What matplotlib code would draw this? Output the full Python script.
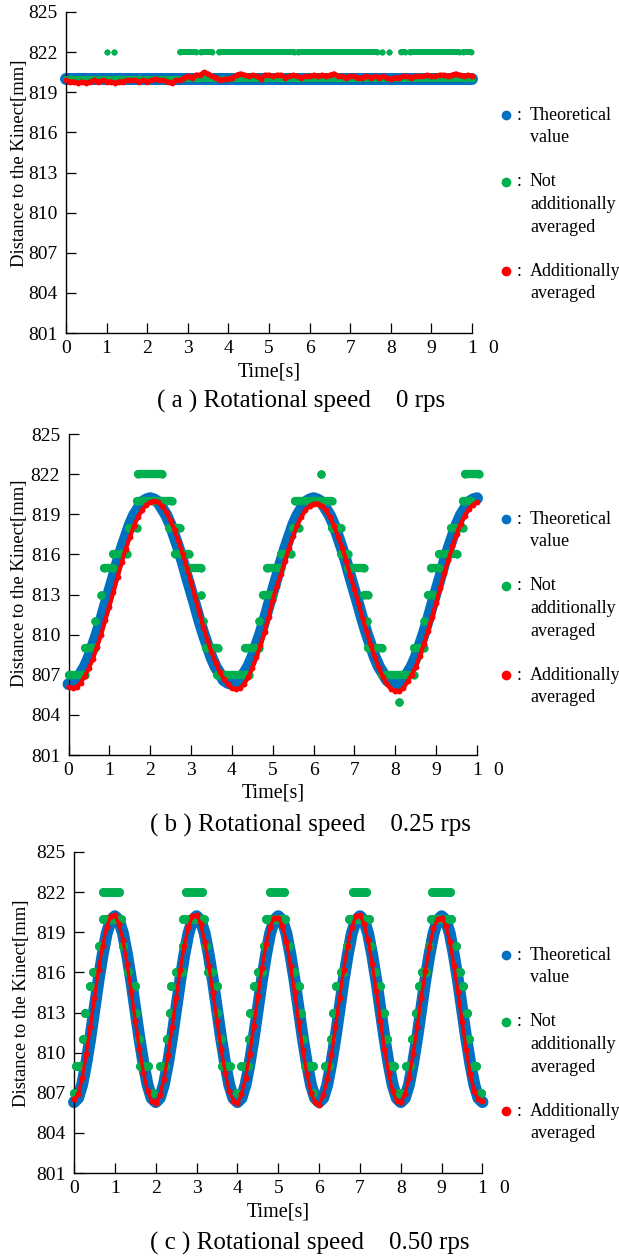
import numpy as np
import matplotlib
matplotlib.use("Agg")
import matplotlib.pyplot as plt
from matplotlib.lines import Line2D

plt.rcParams['font.family'] = ['Liberation Serif', 'DejaVu Serif']

W, H = 619, 1256

# ---------------- data ----------------
time = [round(0.1 * i, 1) for i in range(101)]
yticks = [801, 804, 807, 810, 813, 816, 819, 822, 825]
xticks = [0, 1, 2, 3, 4, 5, 6, 7, 8, 9, 10]
xticklabels = ['0', '1', '2', '3', '4', '5', '6', '7', '8', '9', '1']

legend_labels = [["Theoretical", "value"],
                 ["Not", "additionally", "averaged"],
                 ["Additionally", "averaged"]]
captions = ["( a ) Rotational speed    0 rps",
            "( b ) Rotational speed    0.25 rps",
            "( c ) Rotational speed    0.50 rps"]

# (a) 0 rps
theo_a = [820.0] * 101
avg_a = [819.9, 819.8, 819.8, 819.7, 819.8, 819.7, 819.8, 819.9, 819.8, 819.9,
         819.8, 819.8, 819.7, 819.8, 819.8, 819.9, 819.9, 819.9, 819.8, 819.9,
         819.8, 819.9, 820.0, 819.9, 819.9, 819.8, 819.7, 819.9, 819.9, 820.1,
         820.2, 820.1, 820.3, 820.3, 820.5, 820.4, 820.2, 820.1, 819.9, 820.0,
         820.0, 820.1, 820.3, 820.4, 820.3, 820.2, 820.3, 820.2, 820.0, 820.3,
         820.3, 820.2, 820.3, 820.3, 820.1, 820.2, 820.3, 820.2, 820.1, 820.2,
         820.2, 820.3, 820.2, 820.3, 820.2, 820.3, 820.4, 820.2, 820.2, 820.1,
         820.2, 820.2, 820.1, 820.1, 820.2, 820.1, 820.2, 820.1, 820.2, 820.1,
         820.0, 820.1, 820.1, 820.2, 820.2, 820.1, 820.2, 820.2, 820.2, 820.3,
         820.2, 820.2, 820.3, 820.3, 820.2, 820.3, 820.4, 820.3, 820.2, 820.3,
         820.2]
raw_a_level = [820, 822, 822, 822, 822, 822, 822, 822, 822, 822, 822, 822]
raw_a_t0 = [0.0, 1.0, 1.19, 2.82, 3.32, 3.76, 5.72, 7.78, 7.95, 8.24, 8.48, 9.79]
raw_a_t1 = [10.0, 1.02, 1.19, 3.2, 3.6, 5.62, 7.66, 7.78, 7.95, 8.36, 9.69, 9.98]

# (b) 0.25 rps
theo_b = [806.3, 806.4, 806.6, 807.1, 807.6, 808.3, 809.2, 810.1, 811.1, 812.2,
          813.25, 814.3, 815.4, 816.4, 817.3, 818.2, 818.9, 819.4, 819.9, 820.1,
          820.2, 820.1, 819.9, 819.4, 818.9, 818.2, 817.3, 816.4, 815.4, 814.3,
          813.25, 812.2, 811.1, 810.1, 809.2, 808.3, 807.6, 807.1, 806.6, 806.4,
          806.3, 806.4, 806.6, 807.1, 807.6, 808.3, 809.2, 810.1, 811.1, 812.2,
          813.25, 814.3, 815.4, 816.4, 817.3, 818.2, 818.9, 819.4, 819.9, 820.1,
          820.2, 820.1, 819.9, 819.4, 818.9, 818.2, 817.3, 816.4, 815.4, 814.3,
          813.25, 812.2, 811.1, 810.1, 809.2, 808.3, 807.6, 807.1, 806.6, 806.4,
          806.3, 806.4, 806.6, 807.1, 807.6, 808.3, 809.2, 810.1, 811.1, 812.2,
          813.25, 814.3, 815.4, 816.4, 817.3, 818.2, 818.9, 819.4, 819.9, 820.1,
          820.2]
avg_b = [806.1, 806.0, 806.1, 806.4, 806.9, 807.5, 808.2, 809.1, 810.0, 811.1,
         812.1, 813.2, 814.3, 815.4, 816.4, 817.3, 818.1, 818.8, 819.3, 819.7,
         819.9, 820.0, 819.9, 819.6, 819.1, 818.5, 817.8, 816.9, 816.0, 815.0,
         813.9, 812.8, 811.7, 810.6, 809.6, 808.7, 807.9, 807.2, 806.7, 806.3,
         806.0, 805.9, 806.0, 806.3, 806.8, 807.5, 808.3, 809.2, 810.2, 811.3,
         812.6, 813.6, 814.5, 815.5, 816.5, 817.4, 818.2, 818.8, 819.3, 819.6,
         819.8, 819.8, 819.6, 819.3, 818.8, 818.1, 817.3, 816.5, 815.5, 814.4,
         813.4, 812.3, 811.2, 810.2, 809.2, 808.3, 807.5, 806.8, 806.3, 805.9,
         805.8, 805.8, 806.0, 806.5, 807.0, 807.6, 808.4, 809.3, 810.3, 811.3,
         812.4, 813.5, 814.6, 815.6, 816.6, 817.5, 818.3, 818.9, 819.4, 819.7,
         819.9]
raw_b_level = [807, 809, 811, 813, 815, 816, 818, 820, 822,
               818, 816, 815, 813, 811, 809, 807,
               809, 811, 813, 815, 816, 818, 820, 822,
               818, 816, 815, 813, 811, 809, 807, 805,
               809, 811, 813, 815, 816, 818, 820, 822]
raw_b_t0 = [0.0, 0.4, 0.65, 0.8, 0.86, 1.1, 1.47, 1.67, 1.7,
            2.47, 2.6, 2.93, 3.25, 3.3, 3.36, 3.63,
            4.33, 4.67, 4.77, 4.86, 5.2, 5.5, 5.55, 6.19,
            6.46, 6.66, 6.85, 7.24, 7.3, 7.33, 7.67, 8.09,
            8.45, 8.7, 8.8, 8.87, 9.08, 9.37, 9.66, 9.7]
raw_b_t1 = [0.4, 0.65, 0.65, 0.8, 1.1, 1.43, 1.67, 2.54, 2.28,
            2.73, 2.95, 3.25, 3.25, 3.3, 3.65, 4.43,
            4.67, 4.67, 5.0, 5.2, 5.45, 5.65, 6.46, 6.19,
            6.66, 6.85, 7.24, 7.34, 7.3, 7.67, 8.45, 8.09,
            8.7, 8.7, 8.93, 9.08, 9.5, 9.66, 9.85, 10.05]

# (c) 0.50 rps
theo_c = [806.3, 806.6, 807.6, 809.2, 811.1, 813.25, 815.4, 817.3, 818.9, 819.9,
          820.2, 819.9, 818.9, 817.3, 815.4, 813.25, 811.1, 809.2, 807.6, 806.6,
          806.3, 806.6, 807.6, 809.2, 811.1, 813.25, 815.4, 817.3, 818.9, 819.9,
          820.2, 819.9, 818.9, 817.3, 815.4, 813.25, 811.1, 809.2, 807.6, 806.6,
          806.3, 806.6, 807.6, 809.2, 811.1, 813.25, 815.4, 817.3, 818.9, 819.9,
          820.2, 819.9, 818.9, 817.3, 815.4, 813.25, 811.1, 809.2, 807.6, 806.6,
          806.3, 806.6, 807.6, 809.2, 811.1, 813.25, 815.4, 817.3, 818.9, 819.9,
          820.2, 819.9, 818.9, 817.3, 815.4, 813.25, 811.1, 809.2, 807.6, 806.6,
          806.3, 806.6, 807.6, 809.2, 811.1, 813.25, 815.4, 817.3, 818.9, 819.9,
          820.2, 819.9, 818.9, 817.3, 815.4, 813.25, 811.1, 809.2, 807.6, 806.6,
          806.3]
avg_c = [806.5, 806.9, 808.1, 809.9, 811.9, 814.1, 816.2, 818.0, 819.4, 820.2,
         820.3, 819.6, 818.4, 816.6, 814.6, 812.4, 810.3, 808.5, 807.1, 806.4,
         806.2, 806.8, 808.0, 809.8, 811.9, 814.1, 816.2, 818.0, 819.4, 820.2,
         820.3, 819.6, 818.3, 816.5, 814.5, 812.4, 810.3, 808.5, 807.1, 806.4,
         806.2, 806.9, 808.1, 809.9, 812.0, 814.2, 816.3, 818.1, 819.4, 820.1,
         820.1, 819.5, 818.3, 816.5, 814.5, 812.3, 810.2, 808.4, 807.0, 806.3,
         806.1, 806.8, 808.0, 809.8, 811.9, 814.1, 816.2, 818.0, 819.4, 820.2,
         820.3, 819.6, 818.4, 816.6, 814.6, 812.4, 810.3, 808.5, 807.1, 806.4,
         806.3, 806.9, 808.1, 809.9, 811.9, 814.1, 816.1, 817.9, 819.3, 820.0,
         820.1, 819.5, 818.3, 816.5, 814.5, 812.3, 810.2, 808.4, 807.1, 806.5,
         806.4]
raw_c_level = [807, 809, 811, 813, 815, 816, 818, 820, 822,
               818, 816, 815, 813, 811, 809, 807,
               809, 811, 813, 815, 816, 818, 820, 822,
               818, 816, 815, 813, 811, 809, 807,
               809, 811, 813, 815, 816, 818, 820, 822,
               818, 816, 815, 813, 811, 809, 807,
               809, 811, 813, 815, 816, 818, 820, 822,
               818, 816, 815, 813, 811, 809, 807,
               809, 811, 813, 815, 816, 818, 820, 822,
               818, 816, 815, 813, 811, 809, 807]
raw_c_t0 = [0.0, 0.04, 0.23, 0.26, 0.38, 0.47, 0.62, 0.7, 0.72,
            1.2, 1.32, 1.49, 1.52, 1.59, 1.61, 1.93,
            2.1, 2.27, 2.34, 2.38, 2.5, 2.68, 2.67, 2.75,
            3.24, 3.28, 3.51, 3.51, 3.6, 3.62, 3.99,
            4.1, 4.28, 4.32, 4.4, 4.5, 4.64, 4.69, 4.79,
            5.27, 5.39, 5.52, 5.56, 5.61, 5.66, 5.85,
            6.14, 6.29, 6.34, 6.41, 6.53, 6.68, 6.72, 6.82,
            7.26, 7.36, 7.5, 7.58, 7.65, 7.74, 7.89,
            8.13, 8.28, 8.37, 8.44, 8.52, 8.68, 8.74, 8.76,
            9.34, 9.39, 9.53, 9.63, 9.66, 9.78, 9.97]
raw_c_t1 = [0.0, 0.18, 0.23, 0.26, 0.38, 0.52, 0.62, 1.15, 1.09,
            1.2, 1.32, 1.49, 1.52, 1.59, 1.8, 1.93,
            2.22, 2.27, 2.34, 2.38, 2.65, 2.68, 3.19, 3.14,
            3.24, 3.38, 3.51, 3.51, 3.6, 3.82, 3.99,
            4.25, 4.28, 4.32, 4.4, 4.6, 4.64, 5.17, 5.13,
            5.27, 5.39, 5.52, 5.56, 5.61, 5.85, 5.85,
            6.24, 6.29, 6.34, 6.41, 6.58, 6.68, 7.21, 7.16,
            7.26, 7.36, 7.5, 7.58, 7.65, 7.84, 7.98,
            8.23, 8.28, 8.37, 8.44, 8.61, 8.68, 9.24, 9.2,
            9.34, 9.44, 9.53, 9.63, 9.66, 9.83, 9.97]

BLUE = '#0070C0'
GREEN = '#00B050'
RED = '#FF0000'

fig = plt.figure(figsize=(W / 100, H / 100), dpi=100)
fig.patch.set_facecolor('white')


def fx(x):
    return x / W


def fy(y):
    return 1 - y / H


panels = [
    dict(rect=(66, 472, 12, 333), theo=theo_a, avg=avg_a,
         raw=(raw_a_level, raw_a_t0, raw_a_t1), gw=4.3, rw=3.2, rms=4.2,
         ylab=(-0.094, 0.53), xlab=-0.092, leg=(115, 182, 271), cap=(301, 401)),
    dict(rect=(68.5, 477, 434, 755), theo=theo_b, avg=avg_b,
         raw=(raw_b_level, raw_b_t0, raw_b_t1), gw=6.0, rw=3.0, rms=4.2,
         ylab=(-0.098, 0.534), xlab=-0.089, leg=(519, 586, 675), cap=(310, 825)),
    dict(rect=(74, 482.5, 852, 1173), theo=theo_c, avg=avg_c,
         raw=(raw_c_level, raw_c_t0, raw_c_t1), gw=6.4, rw=2.4, rms=4.4,
         ylab=(-0.108, 0.53), xlab=-0.092, leg=(955, 1022, 1111), cap=(310, 1243)),
]

TICK_FS = 14
XLAB_FS = 14.5
YLAB_FS = 13.4

for i, p in enumerate(panels):
    l, r, t, b = p['rect']
    ax = fig.add_axes([fx(l), fy(b), (r - l) / W, (b - t) / H])
    ax.set_xlim(0, 10)
    ax.set_ylim(801, 825)
    for s in ['top', 'right']:
        ax.spines[s].set_visible(False)
    for s in ['left', 'bottom']:
        ax.spines[s].set_linewidth(1.0)
    ax.set_yticks(yticks)
    ax.set_yticklabels([str(v) for v in yticks])
    ax.set_xticks(xticks)
    ax.set_xticklabels(xticklabels)
    ax.tick_params(axis='both', direction='in', length=7, width=0.9,
                   labelsize=TICK_FS)
    ax.tick_params(axis='x', pad=5)
    ax.tick_params(axis='y', pad=6)
    ax.annotate('0', xy=(10, 0), xycoords=('data', 'axes fraction'),
                xytext=(15.5, -5), textcoords='offset points',
                ha='center', va='top', fontsize=TICK_FS)
    ax.set_ylabel('Distance to the Kinect[mm]', fontsize=YLAB_FS)
    ax.yaxis.set_label_coords(*p['ylab'])
    ax.set_xlabel('Time[s]', fontsize=XLAB_FS)
    ax.xaxis.set_label_coords(0.5, p['xlab'])

    # theoretical
    ax.plot(time, p['theo'], '-', color=BLUE, lw=8.6,
            solid_capstyle='round', solid_joinstyle='round',
            clip_on=False, zorder=2)
    # raw (not additionally averaged)
    lv, t0, t1 = p['raw']
    for v, a0, a1 in zip(lv, t0, t1):
        ax.plot([a0, a1], [v, v], '-o', color=GREEN, lw=p['gw'], ms=p['gw'],
                mew=0, solid_capstyle='round', clip_on=False, zorder=3)
    # additionally averaged
    ax.plot(time, p['avg'], '-o', color=RED, lw=p['rw'], ms=p['rms'], mew=0,
            solid_capstyle='round', clip_on=False, zorder=4)

    # legend
    cols = [BLUE, GREEN, RED]
    for k, (yy, lab) in enumerate(zip(p['leg'], legend_labels)):
        fig.add_artist(Line2D([fx(506)], [fy(yy)], marker='o', ms=7,
                              color=cols[k], mew=0,
                              transform=fig.transFigure))
        fig.text(fx(519), fy(yy), ':', fontsize=13, ha='center', va='center')
        for j, line in enumerate(lab):
            fig.text(fx(530), fy(yy + 22.5 * j), line, fontsize=13,
                     ha='left', va='center')

    fig.text(fx(p['cap'][0]), fy(p['cap'][1]), captions[i], fontsize=18,
             ha='center', va='center')

fig.savefig('out.png', dpi=100, facecolor='white')
